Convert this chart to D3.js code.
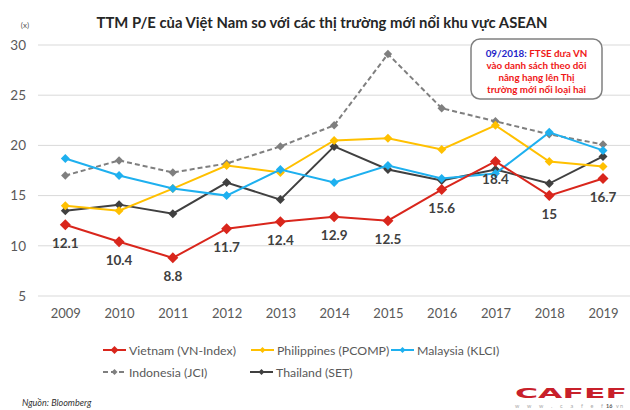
<!DOCTYPE html>
<html><head><meta charset="utf-8">
<script src="https://cdn.jsdelivr.net/npm/d3@7/dist/d3.min.js"></script>
<style>body{margin:0;background:#fff}svg{display:block}</style>
</head><body><svg id="c" width="630" height="410"></svg>
<script>
const years = ["2009","2010","2011","2012","2013","2014","2015","2016","2017","2018","2019"];
const vietnam = [12.1,10.4,8.8,11.7,12.4,12.9,12.5,15.6,18.4,15,16.7];
const philippines = [14.0,13.5,15.7,18.0,17.3,20.5,20.7,19.6,22.0,18.4,17.9];
const malaysia = [18.7,17.0,15.7,15.0,17.6,16.3,18.0,16.7,17.2,21.3,19.5];
const indonesia = [17.0,18.5,17.3,18.2,19.9,22.0,29.1,23.7,22.4,21.1,20.1];
const thailand = [13.5,14.1,13.2,16.3,14.6,19.9,17.6,16.5,17.6,16.2,18.9];
const yTicks = [5,10,15,20,25,30];
const seriesNames = ["Vietnam (VN-Index)","Philippines (PCOMP)","Malaysia (KLCI)","Indonesia (JCI)","Thailand (SET)"];

const FONT = "Lato, 'Open Sans', sans-serif";
const svg = d3.select("#c");
const x = d3.scalePoint().domain(years).range([65.3, 603]);
const y = d3.scaleLinear().domain([5,30]).range([296, 45]);

// gridlines
svg.append("g").selectAll("line").data(yTicks).join("line")
  .attr("x1",38).attr("x2",630).attr("y1",d=>y(d)).attr("y2",d=>y(d))
  .attr("stroke","#d9d9d9").attr("stroke-width",1);

// y axis labels
const yAxis = d3.axisLeft(y).tickValues(yTicks).tickSize(0).tickPadding(0);
const gy = svg.append("g").attr("transform","translate(26,0)").call(yAxis);
gy.select(".domain").remove();
gy.selectAll("text").attr("font-family",FONT).attr("font-size",13.5).attr("fill","#595959");

// x axis labels
const xAxis = d3.axisBottom(x).tickSize(0).tickPadding(0);
const gx = svg.append("g").attr("transform","translate(0,309)").call(xAxis);
gx.select(".domain").remove();
gx.selectAll("text").attr("font-family",FONT).attr("font-size",13).attr("fill","#595959");

// title
svg.append("text").attr("x",322).attr("y",28).attr("text-anchor","middle")
  .attr("textLength",451).attr("lengthAdjust","spacingAndGlyphs")
  .attr("font-family",FONT).attr("font-weight","bold").attr("font-size",15.5).attr("fill","#262626")
  .text("TTM P/E của Việt Nam so với các thị trường mới nổi khu vực ASEAN");
svg.append("text").attr("x",25).attr("y",28).attr("text-anchor","middle")
  .attr("font-family",FONT).attr("font-size",8).attr("fill","#595959").text("(x)");

const series = [
  {name:seriesNames[3], data:indonesia, color:"#7f7f7f", dash:"5,3", m:4.2},
  {name:seriesNames[4], data:thailand, color:"#404040", dash:null, m:4.5},
  {name:seriesNames[1], data:philippines, color:"#ffc000", dash:null, m:4.5},
  {name:seriesNames[2], data:malaysia, color:"#1eb0ef", dash:null, m:4.5},
  {name:seriesNames[0], data:vietnam, color:"#d9261c", dash:null, m:5.5}
];
const line = d3.line().x((d,i)=>x(years[i])).y(d=>y(d));
const diamond = r => `M0,${-r}L${r},0L0,${r}L${-r},0Z`;

series.forEach(s=>{
  const g = svg.append("g");
  g.append("path").attr("d",line(s.data)).attr("fill","none").attr("stroke",s.color)
    .attr("stroke-width",2).attr("stroke-dasharray",s.dash);
  g.selectAll("path.m").data(s.data).join("path").attr("class","m")
    .attr("d",diamond(s.m)).attr("transform",(d,i)=>`translate(${x(years[i])},${y(d)})`)
    .attr("fill",s.color);
});

// vietnam labels
svg.append("g").selectAll("text").data(vietnam).join("text")
  .attr("x",(d,i)=>x(years[i])).attr("y",d=>y(d)+23).attr("text-anchor","middle")
  .attr("font-family",FONT).attr("font-weight","bold").attr("font-size",13.5).attr("fill","#404040")
  .text(d=>d);

// annotation box
svg.append("rect").attr("x",471).attr("y",39).attr("width",131).attr("height",60).attr("rx",9)
  .attr("fill","#fff").attr("stroke","#808080").attr("stroke-width",1.5);
const ann = svg.append("g").attr("font-family",FONT).attr("font-weight","bold").attr("font-size",9.8).attr("text-anchor","middle");
const t1 = ann.append("text").attr("x",536.5).attr("y",56.5);
t1.append("tspan").attr("fill","#2424c8").text("09/2018: ");
t1.append("tspan").attr("fill","#f01818").text("FTSE đưa VN");
["vào danh sách theo dõi","nâng hạng lên Thị","trường mới nổi loại hai"].forEach((t,i)=>{
  ann.append("text").attr("x",536.5).attr("y",68.5+i*12).attr("fill","#f01818").text(t);
});

// legend
const legendItems = [
  {s:series[4], x:103, y:350},
  {s:series[2], x:251, y:350},
  {s:series[3], x:391, y:350},
  {s:series[0], x:103, y:372},
  {s:series[1], x:250, y:372}
];
legendItems.forEach(it=>{
  const g = svg.append("g").attr("transform",`translate(${it.x},${it.y})`);
  g.append("line").attr("x1",0).attr("x2",23).attr("stroke",it.s.color).attr("stroke-width",2)
    .attr("stroke-dasharray",it.s.dash);
  g.append("path").attr("d",diamond(it.s===series[4]?4:3)).attr("transform","translate(11.5,0)").attr("fill",it.s.color);
  g.append("text").attr("x",26).attr("y",4.5).attr("font-family",FONT).attr("font-size",12.3)
    .attr("fill","#595959").text(it.s.name);
});

// source
svg.append("text").attr("x",22).attr("y",406).attr("font-family",FONT).attr("font-style","italic")
  .attr("font-size",9).attr("fill","#333").text("Nguồn: Bloomberg");

// logo
svg.append("text").attr("x",515).attr("y",397.5).attr("textLength",112).attr("lengthAdjust","spacingAndGlyphs")
  .attr("font-family","'DejaVu Sans', sans-serif").attr("font-weight","bold").attr("font-size",14.5)
  .attr("fill","#c8202a").text("CAFEF");
svg.append("text").attr("x",515).attr("y",408).attr("textLength",88).attr("lengthAdjust","spacing")
  .attr("font-family",FONT).attr("font-size",5.5).attr("fill","#aaa").text("www.cafef");
svg.append("text").attr("x",606).attr("y",408).attr("font-family",FONT).attr("font-weight","bold")
  .attr("font-size",5.5).attr("fill","#555").text("16");
svg.append("text").attr("x",616).attr("y",408).attr("font-family",FONT)
  .attr("font-size",5.5).attr("fill","#aaa").text("v n");
</script></body></html>
